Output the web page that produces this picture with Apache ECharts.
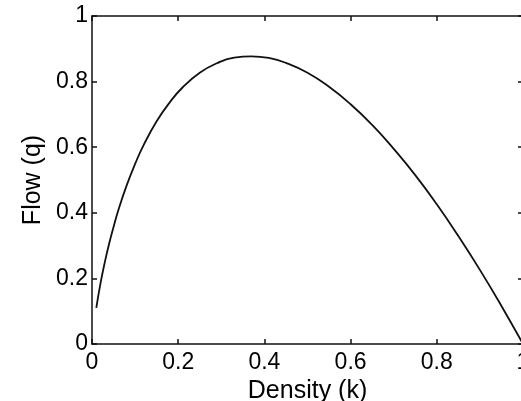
<!DOCTYPE html>
<html>
<head>
<meta charset="utf-8">
<script src="https://cdn.jsdelivr.net/npm/echarts@6/dist/echarts.min.js"></script>
<style>
  html, body { margin: 0; padding: 0; background: #fff; }
  #mychart { width: 521px; height: 401px; }
</style>
</head>
<body>
<div id="mychart"></div>
<script>
// density k and flow q
var density = [0.01, 0.02, 0.03, 0.04, 0.05, 0.06, 0.08, 0.10, 0.12, 0.15, 0.18, 0.21, 0.25, 0.29, 0.33, 0.37,
               0.41, 0.45, 0.50, 0.55, 0.60, 0.65, 0.70, 0.75, 0.80, 0.85, 0.90, 0.95, 1.00];
var flow = [0.110, 0.187, 0.251, 0.307, 0.357, 0.403, 0.482, 0.549, 0.607, 0.679, 0.736, 0.782, 0.827, 0.856, 0.873, 0.877,
            0.872, 0.857, 0.827, 0.784, 0.731, 0.668, 0.595, 0.515, 0.426, 0.329, 0.226, 0.116, 0.000];
var xName = 'Density (k)';
var yName = 'Flow (q)';

var font = 'Liberation Sans, Arial, Helvetica, sans-serif';
var ink = '#111';

var dom = document.getElementById("mychart");
var myChart = echarts.init(dom);

var points = density.map(function (k, i) { return [k, flow[i]]; });

function axisBase(extra) {
    var a = {
        type: 'value',
        min: 0,
        max: 1,
        interval: 0.2,
        splitLine: { show: false },
        axisLine: { show: true, onZero: false, lineStyle: { color: ink, width: 1.5 } },
        axisTick: { show: true, inside: true, length: 5, lineStyle: { color: ink, width: 1.5 } },
        axisLabel: { color: '#000', fontFamily: font, fontSize: 23 }
    };
    for (var key in extra) a[key] = extra[key];
    return a;
}

var option = {
    animation: false,
    grid: { left: 92, top: 16, width: 431, height: 328, containLabel: false, outerBoundsMode: 'none' },
    xAxis: [
        axisBase({
            position: 'bottom',
            name: xName,
            nameLocation: 'middle',
            nameGap: 28,
            nameTextStyle: { color: '#000', fontFamily: font, fontSize: 25 },
            axisLabel: { color: '#000', fontFamily: font, fontSize: 23, margin: 7 }
        }),
        axisBase({ position: 'top', axisLabel: { show: false } })
    ],
    yAxis: [
        axisBase({
            position: 'left',
            name: yName,
            nameLocation: 'middle',
            nameGap: 39,
            nameTextStyle: { color: '#000', fontFamily: font, fontSize: 25 },
            axisLabel: { color: '#000', fontFamily: font, fontSize: 23, margin: 4 }
        }),
        axisBase({ position: 'right', axisLabel: { show: false } })
    ],
    series: [
        {
            type: 'line',
            data: points,
            smooth: true,
            symbol: 'none',
            lineStyle: { color: ink, width: 1.8 }
        }
    ]
};

myChart.setOption(option);
</script>
</body>
</html>
